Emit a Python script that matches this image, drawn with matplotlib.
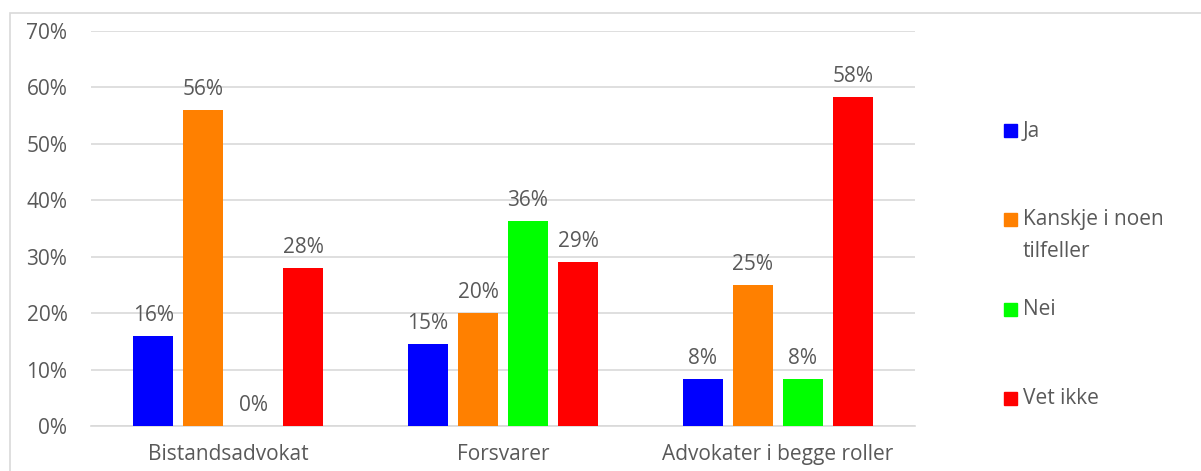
import numpy as np
import matplotlib.pyplot as plt
from matplotlib.patches import Rectangle
from matplotlib.ticker import PercentFormatter

categories = ['Bistandsadvokat', 'Forsvarer', 'Advokater i begge roller']
series = ['Ja', 'Kanskje i noen\ntilfeller', 'Nei', 'Vet ikke']
ja = [16.0, 14.6, 8.3]
kanskje = [56.0, 20.0, 25.0]
nei = [0.0, 36.4, 8.3]
vet_ikke = [28.0, 29.1, 58.3]
colors = ['#0000ff', '#ff8000', '#00ff00', '#ff0000']

plt.rcParams['font.family'] = ['Open Sans', 'DejaVu Sans']
txt = '#595959'
grid = '#d9d9d9'
fs = 15

fig = plt.figure(figsize=(12.01, 4.71), dpi=100)
ax = fig.add_axes([91 / 1201, 1 - 426 / 471, 824 / 1201, 395 / 471])

# outer chart border like the Excel frame
fig.patches.append(Rectangle((10 / 1201, -0.1), 1.2, 1 - 13 / 471 + 0.1,
                             transform=fig.transFigure, fill=False,
                             edgecolor=grid, linewidth=1.2))

x = np.arange(len(categories))
width = 0.1456
step = 0.182
values = [ja, kanskje, nei, vet_ikke]
for i, (vals, c) in enumerate(zip(values, colors)):
    pos = x + (i - 1.5) * step
    bars = ax.bar(pos, vals, width, color=c, zorder=3)
    for b, v in zip(bars, vals):
        ax.annotate(f'{v:.0f}%', (b.get_x() + b.get_width() / 2, v),
                    xytext=(0, 7), textcoords='offset points',
                    ha='center', va='bottom', fontsize=fs, color=txt)

ax.set_xlim(-0.5, 2.5)
ax.set_ylim(0, 70)
ax.set_yticks(np.arange(0, 71, 10))
ax.yaxis.set_major_formatter(PercentFormatter(decimals=0))
ax.set_xticks(x)
ax.set_xticklabels(categories)
ax.grid(axis='y', color=grid, linewidth=1.2, zorder=0)
for s in ['top', 'right', 'left']:
    ax.spines[s].set_visible(False)
ax.spines['bottom'].set_color(grid)
ax.spines['bottom'].set_linewidth(1.2)
ax.tick_params(axis='both', length=0, labelsize=fs, colors=txt)
ax.tick_params(axis='x', pad=13)
ax.tick_params(axis='y', pad=17)
ax.set_facecolor('none')

# legend drawn on the right
leg_y = [131, 219, 309, 398]
for lab, c, yy in zip(series, colors, leg_y):
    fy = 1 - yy / 471
    fig.patches.append(Rectangle((1004 / 1201, fy - 6.5 / 471), 13 / 1201, 13 / 471,
                                 transform=fig.transFigure, color=c))
    fig.text(1023 / 1201, fy + 10 / 471, lab, ha='left', va='top', fontsize=fs,
             color=txt, linespacing=1.7)

fig.savefig('out.png', dpi=100)
